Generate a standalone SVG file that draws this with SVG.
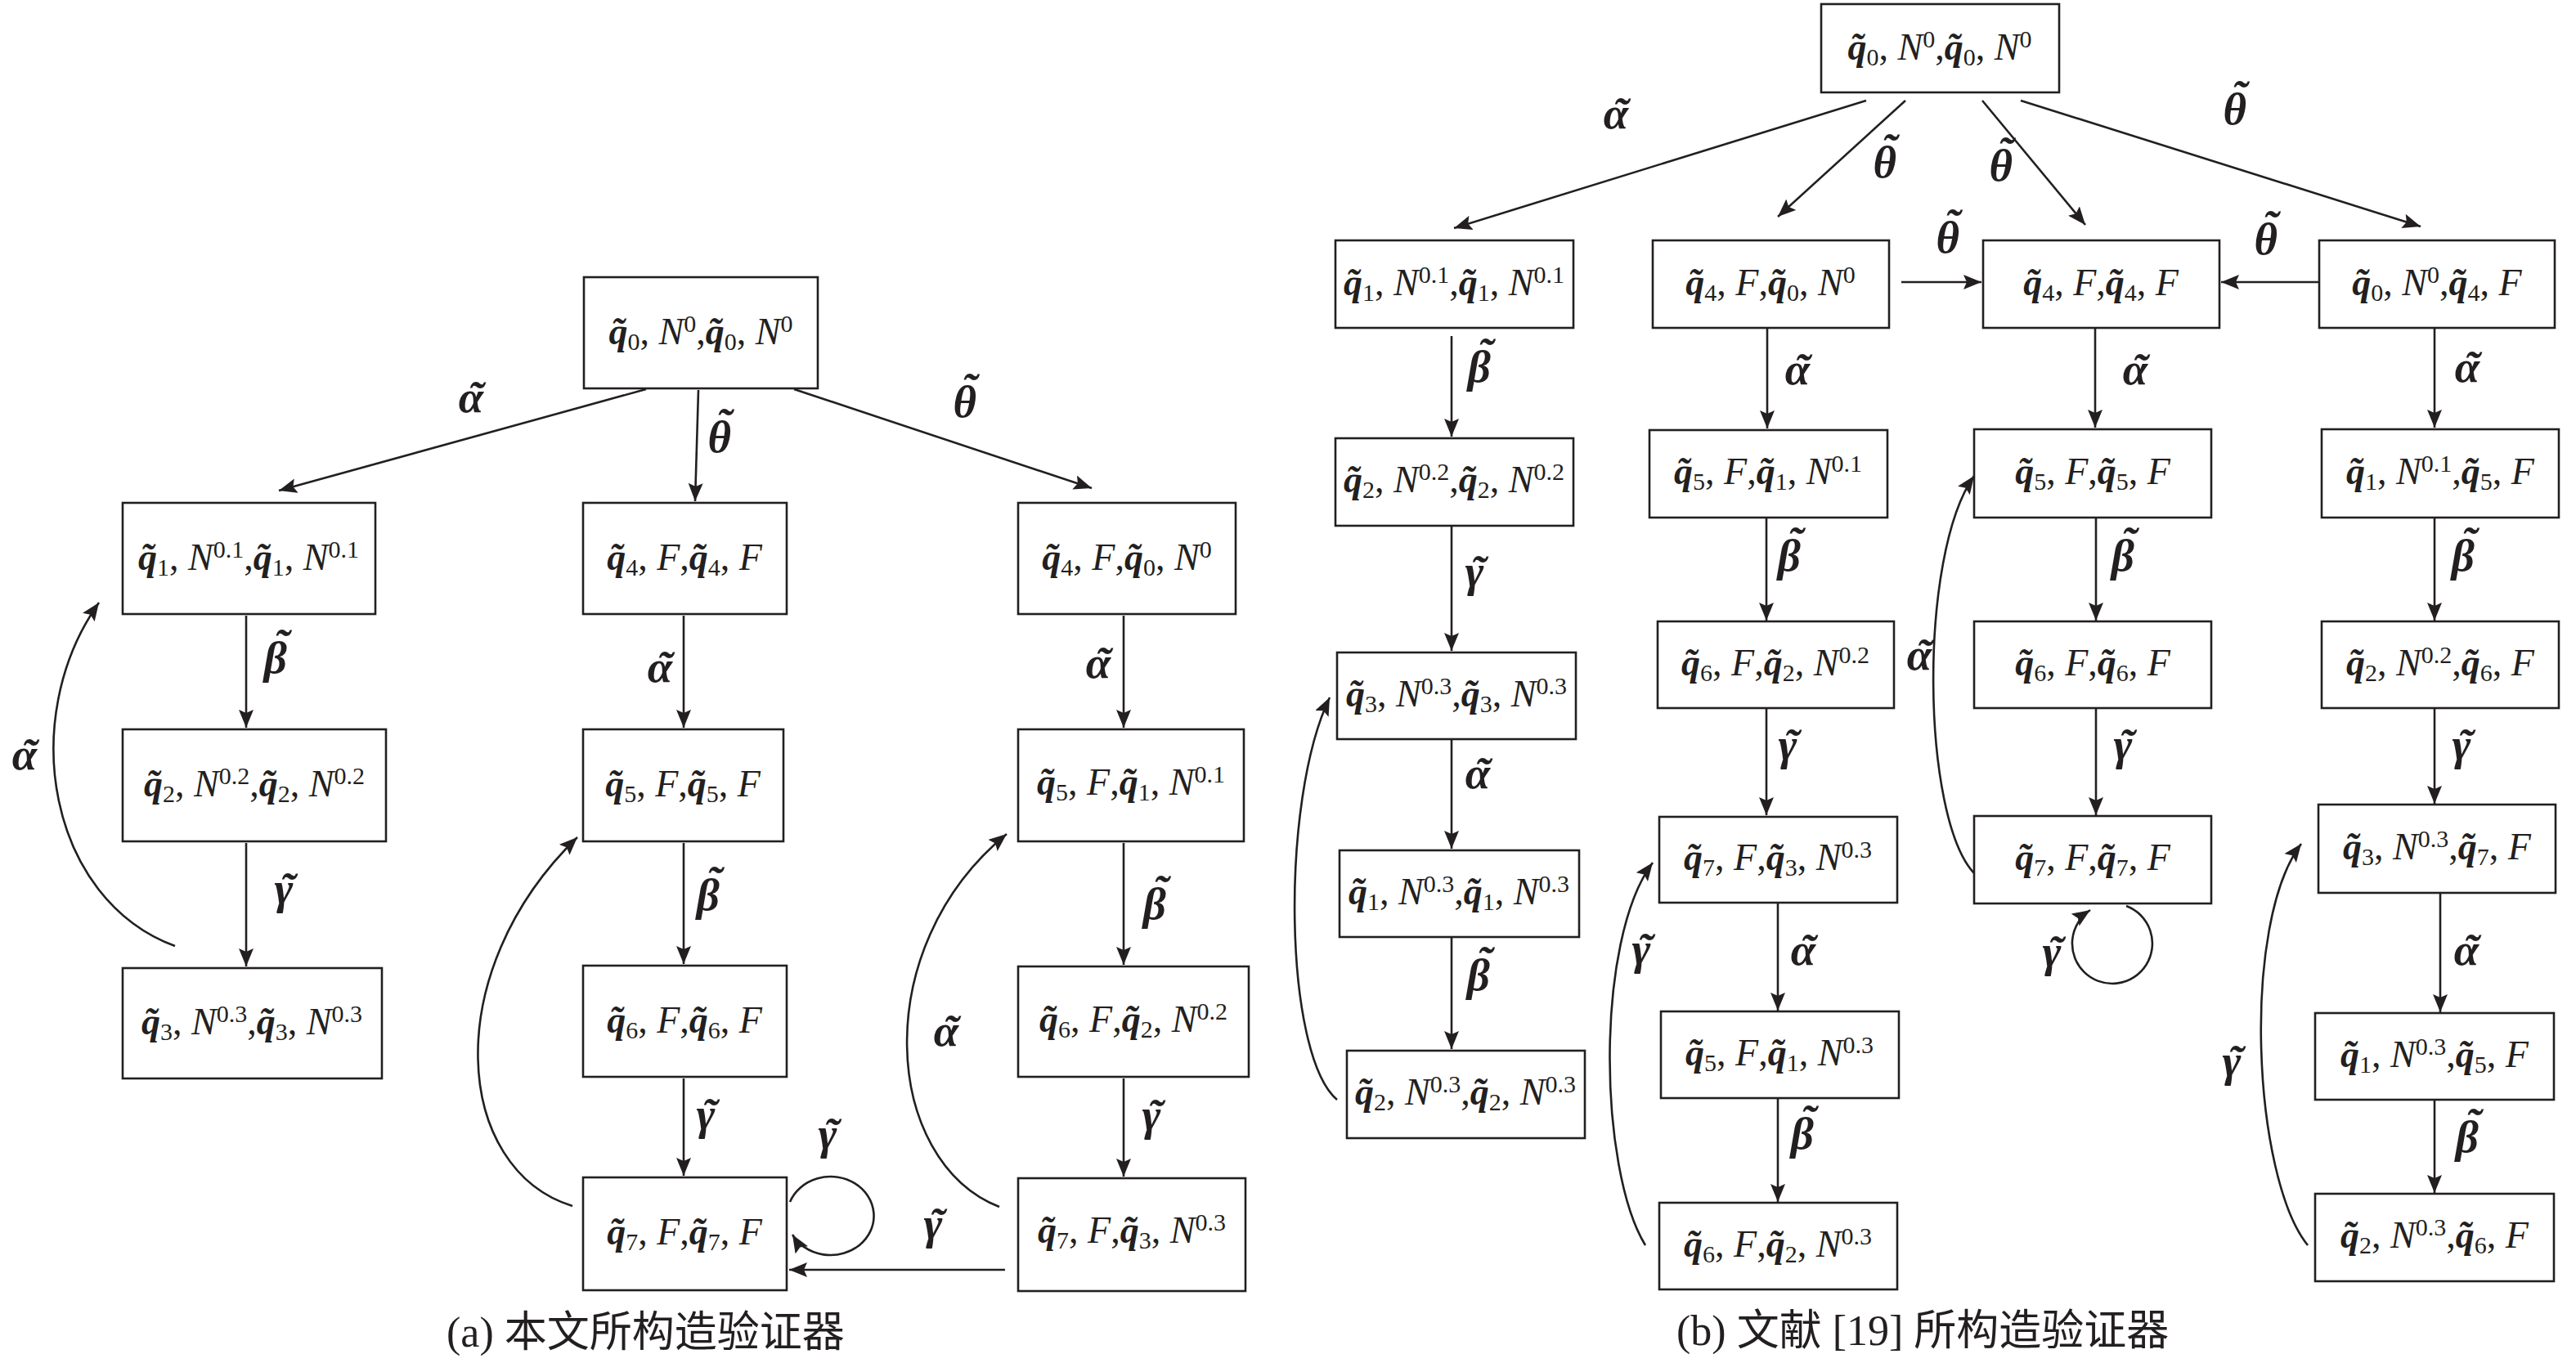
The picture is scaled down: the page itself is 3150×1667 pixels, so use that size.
<svg xmlns="http://www.w3.org/2000/svg" width="3150" height="1667" viewBox="0 0 3150 1667">
<style>
.box{fill:#fff;stroke:#231f20;stroke-width:2.6}
.nt{font-family:"Liberation Serif","Times New Roman",serif;font-size:46px;fill:#231f20;text-anchor:middle}
.q{font-weight:bold;font-style:italic}
.i{font-style:italic}
.s{font-size:30px;font-style:normal;font-weight:normal}
.el{font-family:"Liberation Serif","Times New Roman",serif;font-size:55px;font-weight:bold;font-style:italic;fill:#231f20;text-anchor:middle}
.ed{fill:none;stroke:#231f20;stroke-width:2.6;marker-end:url(#ah)}
.cap{font-family:"Liberation Serif","Noto Sans CJK SC",serif;font-size:52px;fill:#231f20}
</style>
<defs>
<marker id="ah" viewBox="0 0 22 18" refX="22" refY="9" markerWidth="22" markerHeight="18" markerUnits="userSpaceOnUse" orient="auto"><path d="M0,0 L22,9 L0,18 L4,9 z" fill="#231f20"/></marker>
</defs>
<rect width="3150" height="1667" fill="#fff"/>

<g id="connectors">
<path class="ed" d="M790,476 L341,600"/>
<path class="ed" d="M854,477 L850,613"/>
<path class="ed" d="M971,476 L1335,597"/>
<path class="ed" d="M301,753 L301,890"/>
<path class="ed" d="M301,1031 L301,1182"/>
<path class="ed" d="M214,1157 C60,1100 20,880 121,737"/>
<path class="ed" d="M836,753 L836,890"/>
<path class="ed" d="M836,1031 L836,1179"/>
<path class="ed" d="M836,1319 L836,1438"/>
<path class="ed" d="M700,1475 C555,1430 535,1190 706,1024"/>
<path class="ed" d="M966,1470 A53,48 0 1 1 969,1510"/>
<path class="ed" d="M1229,1553 L965,1553"/>
<path class="ed" d="M1374,753 L1374,890"/>
<path class="ed" d="M1374,1031 L1374,1180"/>
<path class="ed" d="M1374,1319 L1374,1439"/>
<path class="ed" d="M1222,1476 C1080,1420 1060,1160 1231,1020"/>

<path class="ed" d="M2282,123 L1778,279"/>
<path class="ed" d="M2330,123 L2174,265"/>
<path class="ed" d="M2424,123 L2550,275"/>
<path class="ed" d="M2471,123 L2960,277"/>
<path class="ed" d="M2325,345 L2423,345"/>
<path class="ed" d="M2836,345 L2716,345"/>
<path class="ed" d="M1775,411 L1775,534"/>
<path class="ed" d="M1775,643 L1775,796"/>
<path class="ed" d="M1775,904 L1775,1038"/>
<path class="ed" d="M1775,1146 L1775,1283"/>
<path class="ed" d="M1635,1345 C1570,1290 1565,980 1626,853"/>
<path class="ed" d="M2161,402 L2161,524"/>
<path class="ed" d="M2160,633 L2160,759"/>
<path class="ed" d="M2160,866 L2160,997"/>
<path class="ed" d="M2174,1104 L2174,1236"/>
<path class="ed" d="M2174,1343 L2174,1470"/>
<path class="ed" d="M2012,1523 C1955,1430 1950,1150 2021,1055"/>
<path class="ed" d="M2562,402 L2562,523"/>
<path class="ed" d="M2563,633 L2563,759"/>
<path class="ed" d="M2563,866 L2563,997"/>
<path class="ed" d="M2600,1108 A49,49 0 1 1 2556,1113"/>
<path class="ed" d="M2414,1068 C2350,1000 2345,680 2414,582"/>
<path class="ed" d="M2977,402 L2977,523"/>
<path class="ed" d="M2977,633 L2977,759"/>
<path class="ed" d="M2977,866 L2977,983"/>
<path class="ed" d="M2984,1092 L2984,1238"/>
<path class="ed" d="M2977,1345 L2977,1459"/>
<path class="ed" d="M2822,1523 C2755,1440 2740,1130 2814,1032"/>
</g>

<g id="edge-labels">
<text class="el" x="576" y="504">α<tspan dx="-19">˜</tspan></text>
<text class="el" x="880" y="553">θ<tspan dx="-18" dy="-16">˜</tspan></text>
<text class="el" x="1180" y="510">θ<tspan dx="-18" dy="-16">˜</tspan></text>
<text class="el" x="338" y="823">β<tspan dx="-16" dy="-16">˜</tspan></text>
<text class="el" x="348" y="1105">γ<tspan dx="-16">˜</tspan></text>
<text class="el" x="30" y="941">α<tspan dx="-19">˜</tspan></text>
<text class="el" x="807" y="834">α<tspan dx="-19">˜</tspan></text>
<text class="el" x="867" y="1113">β<tspan dx="-16" dy="-16">˜</tspan></text>
<text class="el" x="864" y="1381">γ<tspan dx="-16">˜</tspan></text>
<text class="el" x="1013" y="1405">γ<tspan dx="-16">˜</tspan></text>
<text class="el" x="1142" y="1515">γ<tspan dx="-16">˜</tspan></text>
<text class="el" x="1343" y="829">α<tspan dx="-19">˜</tspan></text>
<text class="el" x="1413" y="1124">β<tspan dx="-16" dy="-16">˜</tspan></text>
<text class="el" x="1409" y="1382">γ<tspan dx="-16">˜</tspan></text>
<text class="el" x="1157" y="1279">α<tspan dx="-19">˜</tspan></text>

<text class="el" x="1976" y="157">α<tspan dx="-19">˜</tspan></text>
<text class="el" x="2305" y="217">θ<tspan dx="-18" dy="-16">˜</tspan></text>
<text class="el" x="2447" y="221">θ<tspan dx="-18" dy="-16">˜</tspan></text>
<text class="el" x="2733" y="152">θ<tspan dx="-18" dy="-16">˜</tspan></text>
<text class="el" x="2382" y="309">θ<tspan dx="-18" dy="-16">˜</tspan></text>
<text class="el" x="2771" y="311">θ<tspan dx="-18" dy="-16">˜</tspan></text>
<text class="el" x="1810" y="467">β<tspan dx="-16" dy="-16">˜</tspan></text>
<text class="el" x="2198" y="470">α<tspan dx="-19">˜</tspan></text>
<text class="el" x="2611" y="470">α<tspan dx="-19">˜</tspan></text>
<text class="el" x="3017" y="467">α<tspan dx="-19">˜</tspan></text>
<text class="el" x="1804" y="717">γ<tspan dx="-16">˜</tspan></text>
<text class="el" x="1807" y="964">α<tspan dx="-19">˜</tspan></text>
<text class="el" x="1809" y="1211">β<tspan dx="-16" dy="-16">˜</tspan></text>
<text class="el" x="2189" y="698">β<tspan dx="-16" dy="-16">˜</tspan></text>
<text class="el" x="2187" y="929">γ<tspan dx="-16">˜</tspan></text>
<text class="el" x="2205" y="1180">α<tspan dx="-19">˜</tspan></text>
<text class="el" x="2205" y="1405">β<tspan dx="-16" dy="-16">˜</tspan></text>
<text class="el" x="2008" y="1179">γ<tspan dx="-16">˜</tspan></text>
<text class="el" x="2597" y="698">β<tspan dx="-16" dy="-16">˜</tspan></text>
<text class="el" x="2597" y="929">γ<tspan dx="-16">˜</tspan></text>
<text class="el" x="2510" y="1182">γ<tspan dx="-16">˜</tspan></text>
<text class="el" x="2347" y="819">α<tspan dx="-19">˜</tspan></text>
<text class="el" x="3013" y="698">β<tspan dx="-16" dy="-16">˜</tspan></text>
<text class="el" x="3011" y="929">γ<tspan dx="-16">˜</tspan></text>
<text class="el" x="3016" y="1180">α<tspan dx="-19">˜</tspan></text>
<text class="el" x="3018" y="1409">β<tspan dx="-16" dy="-16">˜</tspan></text>
<text class="el" x="2730" y="1316">γ<tspan dx="-16">˜</tspan></text>
</g>

<g id="a_root"><rect class="box" x="714" y="339" width="286" height="136"/><text class="nt" x="857" y="421"><tspan class="q">q&#x303;</tspan><tspan class="s" dy="7">0</tspan><tspan dy="-7">, </tspan><tspan class="i">N</tspan><tspan class="s" dy="-15">0</tspan><tspan dy="15">,</tspan><tspan class="q">q&#x303;</tspan><tspan class="s" dy="7">0</tspan><tspan dy="-7">, </tspan><tspan class="i">N</tspan><tspan class="s" dy="-15">0</tspan></text></g>
<g id="a_q1"><rect class="box" x="150" y="615" width="309" height="136"/><text class="nt" x="304" y="697"><tspan class="q">q&#x303;</tspan><tspan class="s" dy="7">1</tspan><tspan dy="-7">, </tspan><tspan class="i">N</tspan><tspan class="s" dy="-15">0.1</tspan><tspan dy="15">,</tspan><tspan class="q">q&#x303;</tspan><tspan class="s" dy="7">1</tspan><tspan dy="-7">, </tspan><tspan class="i">N</tspan><tspan class="s" dy="-15">0.1</tspan></text></g>
<g id="a_q2"><rect class="box" x="150" y="892" width="322" height="137"/><text class="nt" x="311" y="974"><tspan class="q">q&#x303;</tspan><tspan class="s" dy="7">2</tspan><tspan dy="-7">, </tspan><tspan class="i">N</tspan><tspan class="s" dy="-15">0.2</tspan><tspan dy="15">,</tspan><tspan class="q">q&#x303;</tspan><tspan class="s" dy="7">2</tspan><tspan dy="-7">, </tspan><tspan class="i">N</tspan><tspan class="s" dy="-15">0.2</tspan></text></g>
<g id="a_q3"><rect class="box" x="150" y="1184" width="317" height="135"/><text class="nt" x="308" y="1265"><tspan class="q">q&#x303;</tspan><tspan class="s" dy="7">3</tspan><tspan dy="-7">, </tspan><tspan class="i">N</tspan><tspan class="s" dy="-15">0.3</tspan><tspan dy="15">,</tspan><tspan class="q">q&#x303;</tspan><tspan class="s" dy="7">3</tspan><tspan dy="-7">, </tspan><tspan class="i">N</tspan><tspan class="s" dy="-15">0.3</tspan></text></g>
<g id="a_q4"><rect class="box" x="713" y="615" width="249" height="136"/><text class="nt" x="837" y="697"><tspan class="q">q&#x303;</tspan><tspan class="s" dy="7">4</tspan><tspan dy="-7">, </tspan><tspan class="i">F</tspan>,<tspan class="q">q&#x303;</tspan><tspan class="s" dy="7">4</tspan><tspan dy="-7">, </tspan><tspan class="i">F</tspan></text></g>
<g id="a_q5"><rect class="box" x="713" y="892" width="245" height="137"/><text class="nt" x="835" y="974"><tspan class="q">q&#x303;</tspan><tspan class="s" dy="7">5</tspan><tspan dy="-7">, </tspan><tspan class="i">F</tspan>,<tspan class="q">q&#x303;</tspan><tspan class="s" dy="7">5</tspan><tspan dy="-7">, </tspan><tspan class="i">F</tspan></text></g>
<g id="a_q6"><rect class="box" x="713" y="1181" width="249" height="136"/><text class="nt" x="837" y="1263"><tspan class="q">q&#x303;</tspan><tspan class="s" dy="7">6</tspan><tspan dy="-7">, </tspan><tspan class="i">F</tspan>,<tspan class="q">q&#x303;</tspan><tspan class="s" dy="7">6</tspan><tspan dy="-7">, </tspan><tspan class="i">F</tspan></text></g>
<g id="a_q7"><rect class="box" x="713" y="1440" width="249" height="138"/><text class="nt" x="837" y="1522"><tspan class="q">q&#x303;</tspan><tspan class="s" dy="7">7</tspan><tspan dy="-7">, </tspan><tspan class="i">F</tspan>,<tspan class="q">q&#x303;</tspan><tspan class="s" dy="7">7</tspan><tspan dy="-7">, </tspan><tspan class="i">F</tspan></text></g>
<g id="a_r1"><rect class="box" x="1245" y="615" width="266" height="136"/><text class="nt" x="1378" y="697"><tspan class="q">q&#x303;</tspan><tspan class="s" dy="7">4</tspan><tspan dy="-7">, </tspan><tspan class="i">F</tspan>,<tspan class="q">q&#x303;</tspan><tspan class="s" dy="7">0</tspan><tspan dy="-7">, </tspan><tspan class="i">N</tspan><tspan class="s" dy="-15">0</tspan></text></g>
<g id="a_r2"><rect class="box" x="1245" y="892" width="276" height="137"/><text class="nt" x="1383" y="972"><tspan class="q">q&#x303;</tspan><tspan class="s" dy="7">5</tspan><tspan dy="-7">, </tspan><tspan class="i">F</tspan>,<tspan class="q">q&#x303;</tspan><tspan class="s" dy="7">1</tspan><tspan dy="-7">, </tspan><tspan class="i">N</tspan><tspan class="s" dy="-15">0.1</tspan></text></g>
<g id="a_r3"><rect class="box" x="1245" y="1182" width="282" height="135"/><text class="nt" x="1386" y="1262"><tspan class="q">q&#x303;</tspan><tspan class="s" dy="7">6</tspan><tspan dy="-7">, </tspan><tspan class="i">F</tspan>,<tspan class="q">q&#x303;</tspan><tspan class="s" dy="7">2</tspan><tspan dy="-7">, </tspan><tspan class="i">N</tspan><tspan class="s" dy="-15">0.2</tspan></text></g>
<g id="a_r4"><rect class="box" x="1245" y="1441" width="278" height="138"/><text class="nt" x="1384" y="1520"><tspan class="q">q&#x303;</tspan><tspan class="s" dy="7">7</tspan><tspan dy="-7">, </tspan><tspan class="i">F</tspan>,<tspan class="q">q&#x303;</tspan><tspan class="s" dy="7">3</tspan><tspan dy="-7">, </tspan><tspan class="i">N</tspan><tspan class="s" dy="-15">0.3</tspan></text></g>

<g id="b_root"><rect class="box" x="2227" y="5" width="291" height="108"/><text class="nt" x="2372" y="73"><tspan class="q">q&#x303;</tspan><tspan class="s" dy="7">0</tspan><tspan dy="-7">, </tspan><tspan class="i">N</tspan><tspan class="s" dy="-15">0</tspan><tspan dy="15">,</tspan><tspan class="q">q&#x303;</tspan><tspan class="s" dy="7">0</tspan><tspan dy="-7">, </tspan><tspan class="i">N</tspan><tspan class="s" dy="-15">0</tspan></text></g>
<g id="b_c1_1"><rect class="box" x="1633" y="294" width="291" height="107"/><text class="nt" x="1778" y="361"><tspan class="q">q&#x303;</tspan><tspan class="s" dy="7">1</tspan><tspan dy="-7">, </tspan><tspan class="i">N</tspan><tspan class="s" dy="-15">0.1</tspan><tspan dy="15">,</tspan><tspan class="q">q&#x303;</tspan><tspan class="s" dy="7">1</tspan><tspan dy="-7">, </tspan><tspan class="i">N</tspan><tspan class="s" dy="-15">0.1</tspan></text></g>
<g id="b_c1_2"><rect class="box" x="1633" y="536" width="291" height="107"/><text class="nt" x="1778" y="602"><tspan class="q">q&#x303;</tspan><tspan class="s" dy="7">2</tspan><tspan dy="-7">, </tspan><tspan class="i">N</tspan><tspan class="s" dy="-15">0.2</tspan><tspan dy="15">,</tspan><tspan class="q">q&#x303;</tspan><tspan class="s" dy="7">2</tspan><tspan dy="-7">, </tspan><tspan class="i">N</tspan><tspan class="s" dy="-15">0.2</tspan></text></g>
<g id="b_c1_3"><rect class="box" x="1635" y="798" width="292" height="106"/><text class="nt" x="1781" y="864"><tspan class="q">q&#x303;</tspan><tspan class="s" dy="7">3</tspan><tspan dy="-7">, </tspan><tspan class="i">N</tspan><tspan class="s" dy="-15">0.3</tspan><tspan dy="15">,</tspan><tspan class="q">q&#x303;</tspan><tspan class="s" dy="7">3</tspan><tspan dy="-7">, </tspan><tspan class="i">N</tspan><tspan class="s" dy="-15">0.3</tspan></text></g>
<g id="b_c1_4"><rect class="box" x="1638" y="1040" width="293" height="106"/><text class="nt" x="1784" y="1106"><tspan class="q">q&#x303;</tspan><tspan class="s" dy="7">1</tspan><tspan dy="-7">, </tspan><tspan class="i">N</tspan><tspan class="s" dy="-15">0.3</tspan><tspan dy="15">,</tspan><tspan class="q">q&#x303;</tspan><tspan class="s" dy="7">1</tspan><tspan dy="-7">, </tspan><tspan class="i">N</tspan><tspan class="s" dy="-15">0.3</tspan></text></g>
<g id="b_c1_5"><rect class="box" x="1647" y="1285" width="291" height="107"/><text class="nt" x="1792" y="1351"><tspan class="q">q&#x303;</tspan><tspan class="s" dy="7">2</tspan><tspan dy="-7">, </tspan><tspan class="i">N</tspan><tspan class="s" dy="-15">0.3</tspan><tspan dy="15">,</tspan><tspan class="q">q&#x303;</tspan><tspan class="s" dy="7">2</tspan><tspan dy="-7">, </tspan><tspan class="i">N</tspan><tspan class="s" dy="-15">0.3</tspan></text></g>

<g id="b_c2_1"><rect class="box" x="2021" y="294" width="289" height="107"/><text class="nt" x="2165" y="361"><tspan class="q">q&#x303;</tspan><tspan class="s" dy="7">4</tspan><tspan dy="-7">, </tspan><tspan class="i">F</tspan>,<tspan class="q">q&#x303;</tspan><tspan class="s" dy="7">0</tspan><tspan dy="-7">, </tspan><tspan class="i">N</tspan><tspan class="s" dy="-15">0</tspan></text></g>
<g id="b_c2_2"><rect class="box" x="2017" y="526" width="291" height="107"/><text class="nt" x="2162" y="592"><tspan class="q">q&#x303;</tspan><tspan class="s" dy="7">5</tspan><tspan dy="-7">, </tspan><tspan class="i">F</tspan>,<tspan class="q">q&#x303;</tspan><tspan class="s" dy="7">1</tspan><tspan dy="-7">, </tspan><tspan class="i">N</tspan><tspan class="s" dy="-15">0.1</tspan></text></g>
<g id="b_c2_3"><rect class="box" x="2027" y="760" width="289" height="106"/><text class="nt" x="2171" y="826"><tspan class="q">q&#x303;</tspan><tspan class="s" dy="7">6</tspan><tspan dy="-7">, </tspan><tspan class="i">F</tspan>,<tspan class="q">q&#x303;</tspan><tspan class="s" dy="7">2</tspan><tspan dy="-7">, </tspan><tspan class="i">N</tspan><tspan class="s" dy="-15">0.2</tspan></text></g>
<g id="b_c2_4"><rect class="box" x="2029" y="999" width="291" height="105"/><text class="nt" x="2174" y="1064"><tspan class="q">q&#x303;</tspan><tspan class="s" dy="7">7</tspan><tspan dy="-7">, </tspan><tspan class="i">F</tspan>,<tspan class="q">q&#x303;</tspan><tspan class="s" dy="7">3</tspan><tspan dy="-7">, </tspan><tspan class="i">N</tspan><tspan class="s" dy="-15">0.3</tspan></text></g>
<g id="b_c2_5"><rect class="box" x="2031" y="1237" width="291" height="106"/><text class="nt" x="2176" y="1303"><tspan class="q">q&#x303;</tspan><tspan class="s" dy="7">5</tspan><tspan dy="-7">, </tspan><tspan class="i">F</tspan>,<tspan class="q">q&#x303;</tspan><tspan class="s" dy="7">1</tspan><tspan dy="-7">, </tspan><tspan class="i">N</tspan><tspan class="s" dy="-15">0.3</tspan></text></g>
<g id="b_c2_6"><rect class="box" x="2029" y="1471" width="291" height="106"/><text class="nt" x="2174" y="1537"><tspan class="q">q&#x303;</tspan><tspan class="s" dy="7">6</tspan><tspan dy="-7">, </tspan><tspan class="i">F</tspan>,<tspan class="q">q&#x303;</tspan><tspan class="s" dy="7">2</tspan><tspan dy="-7">, </tspan><tspan class="i">N</tspan><tspan class="s" dy="-15">0.3</tspan></text></g>

<g id="b_c3_1"><rect class="box" x="2425" y="294" width="289" height="107"/><text class="nt" x="2569" y="361"><tspan class="q">q&#x303;</tspan><tspan class="s" dy="7">4</tspan><tspan dy="-7">, </tspan><tspan class="i">F</tspan>,<tspan class="q">q&#x303;</tspan><tspan class="s" dy="7">4</tspan><tspan dy="-7">, </tspan><tspan class="i">F</tspan></text></g>
<g id="b_c3_2"><rect class="box" x="2414" y="525" width="290" height="108"/><text class="nt" x="2559" y="592"><tspan class="q">q&#x303;</tspan><tspan class="s" dy="7">5</tspan><tspan dy="-7">, </tspan><tspan class="i">F</tspan>,<tspan class="q">q&#x303;</tspan><tspan class="s" dy="7">5</tspan><tspan dy="-7">, </tspan><tspan class="i">F</tspan></text></g>
<g id="b_c3_3"><rect class="box" x="2414" y="760" width="290" height="106"/><text class="nt" x="2559" y="826"><tspan class="q">q&#x303;</tspan><tspan class="s" dy="7">6</tspan><tspan dy="-7">, </tspan><tspan class="i">F</tspan>,<tspan class="q">q&#x303;</tspan><tspan class="s" dy="7">6</tspan><tspan dy="-7">, </tspan><tspan class="i">F</tspan></text></g>
<g id="b_c3_4"><rect class="box" x="2414" y="998" width="290" height="107"/><text class="nt" x="2559" y="1064"><tspan class="q">q&#x303;</tspan><tspan class="s" dy="7">7</tspan><tspan dy="-7">, </tspan><tspan class="i">F</tspan>,<tspan class="q">q&#x303;</tspan><tspan class="s" dy="7">7</tspan><tspan dy="-7">, </tspan><tspan class="i">F</tspan></text></g>

<g id="b_c4_1"><rect class="box" x="2836" y="294" width="288" height="107"/><text class="nt" x="2980" y="361"><tspan class="q">q&#x303;</tspan><tspan class="s" dy="7">0</tspan><tspan dy="-7">, </tspan><tspan class="i">N</tspan><tspan class="s" dy="-15">0</tspan><tspan dy="15">,</tspan><tspan class="q">q&#x303;</tspan><tspan class="s" dy="7">4</tspan><tspan dy="-7">, </tspan><tspan class="i">F</tspan></text></g>
<g id="b_c4_2"><rect class="box" x="2839" y="525" width="290" height="108"/><text class="nt" x="2984" y="592"><tspan class="q">q&#x303;</tspan><tspan class="s" dy="7">1</tspan><tspan dy="-7">, </tspan><tspan class="i">N</tspan><tspan class="s" dy="-15">0.1</tspan><tspan dy="15">,</tspan><tspan class="q">q&#x303;</tspan><tspan class="s" dy="7">5</tspan><tspan dy="-7">, </tspan><tspan class="i">F</tspan></text></g>
<g id="b_c4_3"><rect class="box" x="2839" y="760" width="290" height="106"/><text class="nt" x="2984" y="826"><tspan class="q">q&#x303;</tspan><tspan class="s" dy="7">2</tspan><tspan dy="-7">, </tspan><tspan class="i">N</tspan><tspan class="s" dy="-15">0.2</tspan><tspan dy="15">,</tspan><tspan class="q">q&#x303;</tspan><tspan class="s" dy="7">6</tspan><tspan dy="-7">, </tspan><tspan class="i">F</tspan></text></g>
<g id="b_c4_4"><rect class="box" x="2835" y="984" width="290" height="108"/><text class="nt" x="2980" y="1051"><tspan class="q">q&#x303;</tspan><tspan class="s" dy="7">3</tspan><tspan dy="-7">, </tspan><tspan class="i">N</tspan><tspan class="s" dy="-15">0.3</tspan><tspan dy="15">,</tspan><tspan class="q">q&#x303;</tspan><tspan class="s" dy="7">7</tspan><tspan dy="-7">, </tspan><tspan class="i">F</tspan></text></g>
<g id="b_c4_5"><rect class="box" x="2831" y="1239" width="292" height="106"/><text class="nt" x="2977" y="1305"><tspan class="q">q&#x303;</tspan><tspan class="s" dy="7">1</tspan><tspan dy="-7">, </tspan><tspan class="i">N</tspan><tspan class="s" dy="-15">0.3</tspan><tspan dy="15">,</tspan><tspan class="q">q&#x303;</tspan><tspan class="s" dy="7">5</tspan><tspan dy="-7">, </tspan><tspan class="i">F</tspan></text></g>
<g id="b_c4_6"><rect class="box" x="2831" y="1460" width="292" height="107"/><text class="nt" x="2977" y="1526"><tspan class="q">q&#x303;</tspan><tspan class="s" dy="7">2</tspan><tspan dy="-7">, </tspan><tspan class="i">N</tspan><tspan class="s" dy="-15">0.3</tspan><tspan dy="15">,</tspan><tspan class="q">q&#x303;</tspan><tspan class="s" dy="7">6</tspan><tspan dy="-7">, </tspan><tspan class="i">F</tspan></text></g>

<g id="captions">
<text class="cap" x="546" y="1647">(a) 本文所构造验证器</text>
<text class="cap" x="2050" y="1645">(b) 文献 [19] 所构造验证器</text>
</g>
</svg>
